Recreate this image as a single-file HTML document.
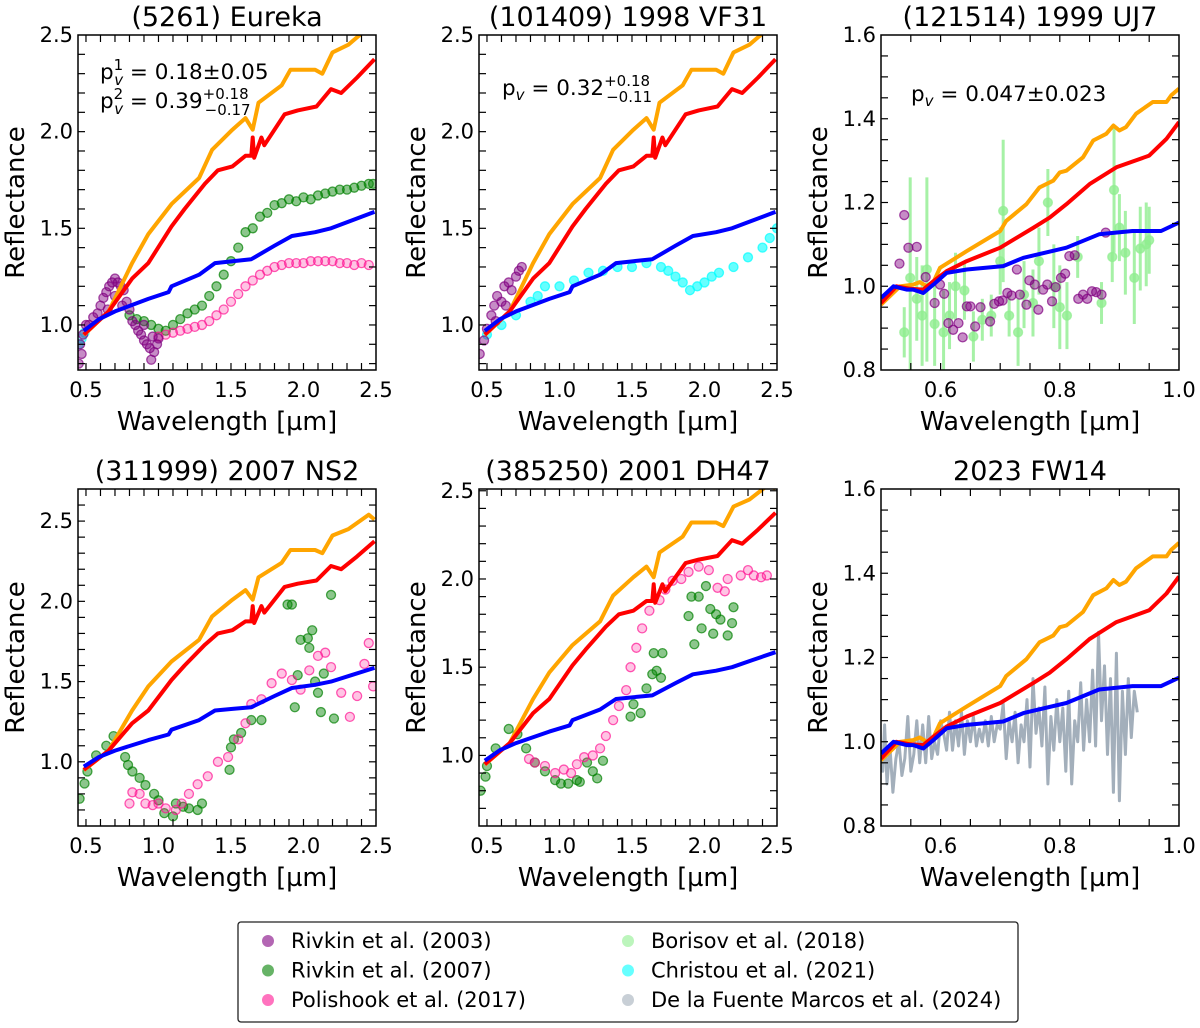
<!DOCTYPE html>
<html><head><meta charset="utf-8">
<style>
html,body{margin:0;padding:0;background:#fff;}
svg{display:block;font-family:"DejaVu Sans","Liberation Sans",sans-serif;}
</style></head>
<body>
<svg id="fig" width="1200" height="1028" viewBox="0 0 1200 1028"></svg>
<script>
// ===== DATA =====
const orangeWX=[0.485,0.657,0.818,0.93,1.09,1.28,1.37,1.51,1.6,1.65,1.69,1.85,1.91,2.08,2.13,2.2,2.31,2.45,2.49];
const orangeWY=[0.948,1.07,1.32,1.47,1.625,1.76,1.906,2.01,2.07,2.01,2.15,2.24,2.32,2.32,2.30,2.41,2.45,2.54,2.51];
const redWX=[0.485,0.657,0.818,0.93,1.09,1.18,1.32,1.41,1.51,1.6,1.64,1.65,1.66,1.71,1.73,1.87,1.96,2.09,2.19,2.26,2.37,2.49];
const redWY=[0.95,1.07,1.24,1.32,1.51,1.60,1.73,1.80,1.82,1.875,1.875,1.97,1.865,1.97,1.93,2.09,2.11,2.13,2.22,2.2,2.28,2.375];
const blueWX=[0.485,0.59,0.70,0.93,1.07,1.09,1.28,1.39,1.51,1.64,1.8,1.92,2.08,2.19,2.33,2.49];
const blueWY=[0.97,1.03,1.07,1.135,1.17,1.2,1.26,1.32,1.33,1.34,1.41,1.46,1.48,1.5,1.54,1.585];
const orangeNX=[0.5,0.532,0.554,0.565,0.577,0.588,0.599,0.644,0.70,0.71,0.744,0.766,0.789,0.8,0.811,0.839,0.856,0.878,0.89,0.9,0.911,0.928,0.956,0.979,0.987,1.0];
const orangeNY=[0.956,1.0,1.004,1.01,1.0,1.01,1.044,1.084,1.132,1.156,1.196,1.236,1.252,1.272,1.276,1.308,1.348,1.364,1.384,1.372,1.38,1.412,1.44,1.44,1.456,1.472];
const redNX=[0.5,0.526,0.549,0.571,0.588,0.61,0.644,0.70,0.756,0.783,0.811,0.85,0.895,0.95,0.979,1.0];
const redNY=[0.96,1.0,0.994,0.992,1.012,1.036,1.06,1.092,1.14,1.164,1.196,1.244,1.284,1.312,1.352,1.392];
const blueNX=[0.5,0.521,0.543,0.554,0.571,0.588,0.61,0.644,0.705,0.739,0.811,0.866,0.922,0.97,1.0];
const blueNY=[0.972,1.0,0.992,0.992,0.984,1.004,1.032,1.04,1.048,1.068,1.092,1.124,1.132,1.132,1.152];
const p1PurpleX=[0.45,0.46,0.47,0.48,0.5,0.52,0.55,0.58,0.6,0.62,0.64,0.66,0.68,0.7,0.72,0.74,0.76,0.78,0.8,0.82,0.84,0.86,0.88,0.9,0.92,0.94,0.95,0.97,0.99,1.0,0.65,0.7,0.75,0.9,0.96];
const p1PurpleY=[0.8,0.9,0.85,0.95,1.0,1.0,1.04,1.06,1.1,1.14,1.17,1.2,1.22,1.24,1.22,1.2,1.18,1.12,1.08,1.02,1.0,0.97,0.95,0.92,0.9,0.88,0.82,0.86,0.9,0.93,1.08,1.15,1.1,1.0,0.94];
const p1GreenX=[0.8,0.85,0.9,0.95,1.0,1.05,1.1,1.15,1.2,1.25,1.3,1.35,1.4,1.45,1.5,1.55,1.6,1.65,1.7,1.75,1.8,1.85,1.9,1.95,2.0,2.05,2.1,2.15,2.2,2.25,2.3,2.35,2.4,2.45,2.48];
const p1GreenY=[1.05,1.03,1.02,1.0,0.98,0.97,1.0,1.03,1.06,1.08,1.1,1.15,1.2,1.26,1.33,1.4,1.48,1.5,1.56,1.58,1.62,1.63,1.65,1.64,1.66,1.65,1.67,1.68,1.69,1.7,1.7,1.71,1.72,1.73,1.73];
const p1PinkX=[1.0,1.05,1.1,1.15,1.2,1.25,1.3,1.35,1.4,1.45,1.5,1.55,1.6,1.65,1.7,1.75,1.8,1.85,1.9,1.95,2.0,2.05,2.1,2.15,2.2,2.25,2.3,2.35,2.4,2.45];
const p1PinkY=[0.94,0.95,0.96,0.97,0.98,0.99,1.0,1.02,1.05,1.08,1.12,1.16,1.2,1.23,1.26,1.28,1.3,1.31,1.32,1.32,1.32,1.33,1.33,1.33,1.33,1.32,1.32,1.31,1.32,1.31];
const p1CyanX=[0.45,0.47,0.49];
const p1CyanY=[0.9,0.93,0.96];
const p2PurpleX=[0.45,0.48,0.5,0.53,0.55,0.57,0.6,0.62,0.65,0.67,0.7,0.72,0.74,0.56,0.63];
const p2PurpleY=[0.85,0.92,0.98,1.05,1.1,1.15,1.12,1.2,1.22,1.18,1.25,1.28,1.3,1.02,1.1];
const p2CyanX=[0.5,0.6,0.7,0.8,0.85,0.9,1.0,1.1,1.2,1.3,1.4,1.5,1.6,1.7,1.75,1.8,1.85,1.9,1.95,2.0,2.05,2.1,2.2,2.3,2.4,2.45,2.5];
const p2CyanY=[0.95,1.0,1.05,1.12,1.15,1.2,1.2,1.23,1.27,1.28,1.3,1.3,1.32,1.3,1.28,1.25,1.22,1.18,1.2,1.22,1.25,1.27,1.3,1.35,1.4,1.45,1.5];
const p3PurpleX=[0.531,0.539,0.546,0.56,0.575,0.59,0.599,0.606,0.613,0.621,0.63,0.637,0.644,0.65,0.658,0.667,0.683,0.69,0.698,0.704,0.712,0.719,0.728,0.733,0.744,0.749,0.758,0.764,0.772,0.779,0.787,0.793,0.802,0.809,0.816,0.825,0.831,0.839,0.846,0.854,0.861,0.87,0.877];
const p3PurpleY=[1.054,1.17,1.092,1.094,1.022,0.96,1.004,0.982,0.912,0.896,0.912,0.878,0.952,0.952,0.904,0.95,0.916,0.958,0.964,0.966,0.984,0.978,1.04,0.98,0.956,1.014,1.004,0.944,0.992,1.004,0.964,0.998,1.02,1.03,1.072,1.074,0.97,0.98,0.97,0.988,0.986,0.98,1.128];
const p3BorX=[0.539,0.549,0.56,0.569,0.577,0.59,0.605,0.615,0.625,0.64,0.655,0.67,0.685,0.7,0.705,0.715,0.73,0.74,0.755,0.765,0.78,0.79,0.8,0.812,0.83,0.87,0.888,0.891,0.9,0.91,0.925,0.935,0.945,0.95];
const p3BorY=[0.89,1.02,0.97,0.93,1.04,0.91,0.89,0.93,1.0,0.99,0.88,0.92,0.93,1.06,1.18,0.93,0.89,0.98,0.96,1.06,1.2,1.0,0.95,0.93,1.07,0.96,1.07,1.23,1.14,1.08,1.02,1.09,1.1,1.11];
const p3BorErr=[0.06,0.24,0.1,0.12,0.22,0.1,0.1,0.08,0.08,0.07,0.06,0.05,0.05,0.08,0.17,0.05,0.08,0.08,0.08,0.08,0.08,0.1,0.1,0.08,0.05,0.05,0.06,0.15,0.08,0.1,0.11,0.1,0.1,0.08];
const p4GreenX=[0.456,0.49,0.51,0.57,0.64,0.69,0.77,0.79,0.82,0.87,0.91,0.97,1.0,1.04,1.1,1.12,1.17,1.21,1.27,1.3,1.49,1.5,1.52,1.57,1.64,1.71,1.89,1.92,1.94,1.96,1.98,2.03,2.04,2.06,2.08,2.1,2.12,2.14,2.19,2.21];
const p4GreenY=[0.77,0.865,0.94,1.04,1.1,1.16,1.03,0.98,0.94,0.9,0.855,0.80,0.76,0.68,0.66,0.74,0.72,0.71,0.70,0.74,0.95,1.09,1.14,1.18,1.26,1.26,1.98,1.98,1.34,1.54,1.76,1.77,1.71,1.82,1.5,1.43,1.31,1.55,2.04,1.27];
const p4PinkX=[0.8,0.82,0.87,0.91,0.96,1.0,1.05,1.12,1.16,1.21,1.27,1.34,1.41,1.48,1.55,1.6,1.64,1.71,1.78,1.85,1.92,1.98,2.04,2.1,2.15,2.19,2.26,2.32,2.37,2.42,2.45,2.48];
const p4PinkY=[0.74,0.81,0.8,0.74,0.73,0.74,0.71,0.70,0.74,0.8,0.86,0.91,1.0,1.03,1.14,1.24,1.36,1.39,1.49,1.55,1.51,1.45,1.57,1.66,1.68,1.59,1.43,1.28,1.41,1.61,1.74,1.47];
const p5GreenX=[0.456,0.49,0.5,0.56,0.65,0.71,0.77,0.83,0.9,0.97,1.01,1.06,1.12,1.14,1.19,1.23,1.26,1.3,1.49,1.51,1.56,1.6,1.64,1.67,1.65,1.71,1.7,1.89,1.91,1.93,1.96,1.98,2.01,2.04,2.06,2.08,2.11,2.16,2.19,2.2];
const p5GreenY=[0.80,0.88,0.94,1.04,1.15,1.12,1.04,0.96,0.91,0.86,0.84,0.84,0.86,0.85,0.96,0.91,0.87,0.97,1.22,1.29,1.24,1.38,1.46,1.48,1.58,1.58,1.44,1.79,1.9,1.63,1.9,1.72,1.96,1.83,1.69,1.8,1.77,1.68,1.75,1.84];
const p5PinkX=[0.79,0.83,0.9,0.97,1.03,1.08,1.12,1.17,1.23,1.28,1.32,1.37,1.41,1.46,1.49,1.53,1.57,1.62,1.69,1.73,1.78,1.84,1.89,1.96,2.03,2.09,2.14,2.16,2.25,2.3,2.34,2.39,2.43];
const p5PinkY=[0.98,0.96,0.94,0.9,0.92,0.9,0.95,0.99,1.0,1.04,1.11,1.2,1.28,1.37,1.5,1.61,1.72,1.82,1.88,1.94,1.99,2.0,2.04,2.07,2.05,1.95,1.93,2.0,2.02,2.05,2.02,2.01,2.02];
const p6GrayX=[0.5,0.503,0.506,0.51,0.515,0.52,0.525,0.53,0.535,0.54,0.545,0.55,0.555,0.56,0.565,0.57,0.575,0.58,0.585,0.59,0.595,0.6,0.605,0.61,0.615,0.62,0.625,0.63,0.635,0.64,0.645,0.65,0.655,0.66,0.665,0.67,0.675,0.68,0.685,0.69,0.695,0.7,0.705,0.71,0.715,0.72,0.725,0.73,0.735,0.74,0.745,0.75,0.755,0.76,0.765,0.77,0.775,0.78,0.785,0.79,0.795,0.8,0.805,0.81,0.815,0.82,0.825,0.83,0.835,0.84,0.845,0.85,0.855,0.86,0.865,0.87,0.875,0.88,0.885,0.89,0.895,0.9,0.905,0.91,0.915,0.92,0.925,0.93];
const p6GrayY=[0.97,0.93,1.04,0.9,0.99,0.88,0.96,1.0,0.92,0.96,1.06,0.93,0.97,1.05,0.95,1.04,0.95,1.06,0.96,1.0,0.97,1.05,1.02,0.98,1.07,0.98,1.05,0.99,1.07,0.97,1.05,1.0,1.06,0.99,1.03,1.0,1.05,0.99,1.06,1.0,1.04,1.03,1.09,0.96,1.05,1.0,1.07,0.95,1.04,1.0,1.1,0.94,1.15,1.02,1.08,0.99,1.13,0.9,1.06,0.98,1.1,1.0,1.08,0.93,1.12,0.9,1.05,1.0,1.14,0.98,1.1,1.0,1.17,0.99,1.26,1.05,1.18,0.97,1.15,0.88,1.21,0.86,1.12,0.97,1.15,1.01,1.12,1.07];
const wideXLabels=[0.5,1.0,1.5,2.0,2.5];
const wideYLabels=[1.0,1.5,2.0,2.5];
const narrowXLabels=[0.6,0.8,1.0];
const narrowYLabels=[0.8,1.0,1.2,1.4,1.6];
const legendLabels=["Rivkin et al. (2003)","Rivkin et al. (2007)","Polishook et al. (2017)","Borisov et al. (2018)","Christou et al. (2021)","De la Fuente Marcos et al. (2024)"];

// ===== DRAWING =====
const NS="http://www.w3.org/2000/svg";
const svg=document.getElementById('fig');
function mk(tag,attrs,parent){const e=document.createElementNS(NS,tag);for(const k in attrs)e.setAttribute(k,attrs[k]);(parent||svg).appendChild(e);return e;}
const COL={purple:'#800080',green:'#008000',pink:'#ff1493',bor:'#90ee90',cyan:'#00ffff',gray:'#a3afbb',orange:'#ffa500',red:'#ff0000',blue:'#0000ff'};

function panel(cfg){
  const g=mk('g',{});
  
  
  const sx=v=>cfg.l+(v-cfg.x0)/(cfg.x1-cfg.x0)*cfg.w;
  const sy=v=>cfg.t+cfg.h-(v-cfg.y0)/(cfg.y1-cfg.y0)*cfg.h;
  const cid='clip-'+cfg.name;
  const cp=mk('clipPath',{id:cid},g);mk('rect',{x:cfg.l,y:cfg.t,width:cfg.w,height:cfg.h},cp);
  const plot=mk('g',{'clip-path':'url(#'+cid+')'},g);
  
  
  cfg.series.forEach(s=>{
    if(s.type==='line'){
      const d=s.x.map((v,i)=>(i?'L':'M')+sx(v).toFixed(1)+' '+sy(s.y[i]).toFixed(1)).join(' ');
      const p=mk('path',{d:d,fill:'none',stroke:s.c,'stroke-width':s.w||4,'stroke-linejoin':'round'},plot);
      
      
    } else {
      const sg=mk('g',{},plot);
      
      
      s.x.forEach((v,i)=>{
        if(s.err){mk('line',{x1:sx(v),x2:sx(v),y1:sy(s.y[i]-s.err[i]),y2:sy(s.y[i]+s.err[i]),stroke:s.c,'stroke-width':3,'stroke-opacity':0.8},sg);}
        const c=mk('circle',{cx:sx(v),cy:sy(s.y[i]),r:4.5,fill:s.c,'fill-opacity':s.fo||0.45,stroke:s.c,'stroke-opacity':0.7,'stroke-width':1.3},sg);
        
        
      });
    }
  });
  const fr=mk('rect',{x:cfg.l,y:cfg.t,width:cfg.w,height:cfg.h,fill:'none',stroke:'#000','stroke-width':1.5},g);
  
  
  for(let v=cfg.xt0;v<=cfg.x1+1e-9;v+=cfg.xts){const X=sx(v);if(X<cfg.l+0.5||X>cfg.l+cfg.w-0.5)continue;
    mk('line',{x1:X,x2:X,y1:cfg.t+cfg.h,y2:cfg.t+cfg.h-7,stroke:'#000','stroke-width':1.2},g);
    mk('line',{x1:X,x2:X,y1:cfg.t,y2:cfg.t+7,stroke:'#000','stroke-width':1.2},g);}
  for(let v=cfg.yt0;v<=cfg.y1+1e-9;v+=cfg.yts){const Y=sy(v);if(Y<cfg.t+0.5||Y>cfg.t+cfg.h-0.5)continue;
    mk('line',{x1:cfg.l,x2:cfg.l+7,y1:Y,y2:Y,stroke:'#000','stroke-width':1.2},g);
    mk('line',{x1:cfg.l+cfg.w,x2:cfg.l+cfg.w-7,y1:Y,y2:Y,stroke:'#000','stroke-width':1.2},g);}
  cfg.xl.forEach(v=>{const t=mk('text',{x:sx(v),y:cfg.t+cfg.h+27,'text-anchor':'middle','font-size':21},g);t.textContent=v.toFixed(1);
    });
  cfg.yl.forEach(v=>{const t=mk('text',{x:cfg.l-5,y:sy(v)+7,'text-anchor':'end','font-size':21},g);t.textContent=v.toFixed(1);
    });
  const tt=mk('text',{x:cfg.l+cfg.w/2,y:cfg.t-9,'text-anchor':'middle','font-size':27},g);tt.textContent=cfg.title;
  
  const xl=mk('text',{x:cfg.l+cfg.w/2,y:cfg.t+cfg.h+60,'text-anchor':'middle','font-size':25.5},g);xl.textContent='Wavelength [µm]';
  
  const yx=cfg.l-54,yy=cfg.t+cfg.h/2;
  const yl=mk('text',{x:yx,y:yy,'text-anchor':'middle','font-size':26,transform:'rotate(-90 '+yx+' '+yy+')'},g);yl.textContent='Reflectance';
  
  return g;
}
const wideModels=[{type:'line',n:'model-orange',x:orangeWX,y:orangeWY,c:COL.orange},{type:'line',n:'model-red',x:redWX,y:redWY,c:COL.red},{type:'line',n:'model-blue',x:blueWX,y:blueWY,c:COL.blue}];
const narrowModels=[{type:'line',n:'model-orange',x:orangeNX,y:orangeNY,c:COL.orange},{type:'line',n:'model-red',x:redNX,y:redNY,c:COL.red},{type:'line',n:'model-blue',x:blueNX,y:blueNY,c:COL.blue}];
const wideBase={w:298,x0:0.445,x1:2.5,xt0:0.5,xts:0.1,yts:0.1,xl:wideXLabels,yl:wideYLabels};
const narBase={w:298,x0:0.5,x1:1.0,xt0:0.5,xts:0.05,yt0:0.8,yts:0.05,y0:0.8,y1:1.6,xl:narrowXLabels,yl:narrowYLabels};
panel(Object.assign({},wideBase,{name:'panel-eureka',title:'(5261) Eureka',l:78,t:35,h:335,y0:0.767,y1:2.5,yt0:0.8,
  series:[{n:'christou-2021',x:p1CyanX,y:p1CyanY,c:COL.cyan},{n:'rivkin-2007',x:p1GreenX,y:p1GreenY,c:COL.green},{n:'polishook-2017',x:p1PinkX,y:p1PinkY,c:COL.pink,fo:0.25},{n:'rivkin-2003',x:p1PurpleX,y:p1PurpleY,c:COL.purple},...wideModels]}));
panel(Object.assign({},wideBase,{name:'panel-1998vf31',title:'(101409) 1998 VF31',l:479,t:35,h:335,y0:0.767,y1:2.5,yt0:0.8,
  series:[{n:'christou-2021',x:p2CyanX,y:p2CyanY,c:COL.cyan,fo:0.6},{n:'rivkin-2003',x:p2PurpleX,y:p2PurpleY,c:COL.purple},...wideModels]}));
panel(Object.assign({},narBase,{name:'panel-1999uj7',title:'(121514) 1999 UJ7',l:881,t:35,h:335,
  series:[{n:'borisov-2018',x:p3BorX,y:p3BorY,err:p3BorErr,c:COL.bor,fo:0.8},{n:'rivkin-2003',x:p3PurpleX,y:p3PurpleY,c:COL.purple},...narrowModels]}));
panel(Object.assign({},wideBase,{name:'panel-2007ns2',title:'(311999) 2007 NS2',l:78,t:489,h:337,y0:0.6,y1:2.7,yt0:0.6,
  series:[{n:'rivkin-2007',x:p4GreenX,y:p4GreenY,c:COL.green},{n:'polishook-2017',x:p4PinkX,y:p4PinkY,c:COL.pink,fo:0.25},...wideModels]}));
panel(Object.assign({},wideBase,{name:'panel-2001dh47',title:'(385250) 2001 DH47',l:479,t:489,h:337,y0:0.6,y1:2.51,yt0:0.6,
  series:[{n:'rivkin-2007',x:p5GreenX,y:p5GreenY,c:COL.green},{n:'polishook-2017',x:p5PinkX,y:p5PinkY,c:COL.pink,fo:0.25},...wideModels]}));
panel(Object.assign({},narBase,{name:'panel-2023fw14',title:'2023 FW14',l:881,t:489,h:337,
  series:[{type:'line',n:'de-la-fuente-marcos-2024',x:p6GrayX,y:p6GrayY,c:COL.gray,w:3},...narrowModels]}));

// annotations
function ann(x,y,html,name){const t=mk('text',{x:x,y:y,'font-size':21.5});t.innerHTML=html;}
ann(100,79,'p<tspan font-size="15" dy="-9">1</tspan><tspan font-size="15" font-style="italic" dx="-9" dy="15">v</tspan><tspan dy="-6"> = 0.18±0.05</tspan>','albedo-annotation-1');
ann(100,108,'p<tspan font-size="15" dy="-9">2</tspan><tspan font-size="15" font-style="italic" dx="-9" dy="15">v</tspan><tspan dy="-6"> = 0.39</tspan><tspan font-size="15" dy="-9">+0.18</tspan><tspan font-size="15" dx="-44" dy="16">−0.17</tspan>','albedo-annotation-2');
ann(502,95,'p<tspan font-size="15" font-style="italic" dy="5">v</tspan><tspan dy="-5"> = 0.32</tspan><tspan font-size="15" dy="-9">+0.18</tspan><tspan font-size="15" dx="-44" dy="16">−0.11</tspan>','albedo-annotation-vf31');
ann(911,101,'p<tspan font-size="15" font-style="italic" dy="5">v</tspan><tspan dy="-5"> = 0.047±0.023</tspan>','albedo-annotation-uj7');

// legend
const lg=mk('g',{});


mk('rect',{x:238,y:922,width:780,height:100,rx:3,fill:'#fff',stroke:'#222','stroke-width':1.3},lg);
const legCols=[COL.purple,COL.green,COL.pink,COL.bor,COL.cyan,COL.gray];
legendLabels.forEach((lab,i)=>{
  const col=i<3?0:1,row=i%3;
  const mx=col?628:268, my=941+row*29.5;
  const ent=mk('g',{},lg);
  
  
  mk('circle',{cx:mx,cy:my,r:6,fill:legCols[i],'fill-opacity':0.6},ent);
  const t=mk('text',{x:mx+23,y:my+7,'font-size':21},ent);t.textContent=lab;
});
</script>
</body></html>
